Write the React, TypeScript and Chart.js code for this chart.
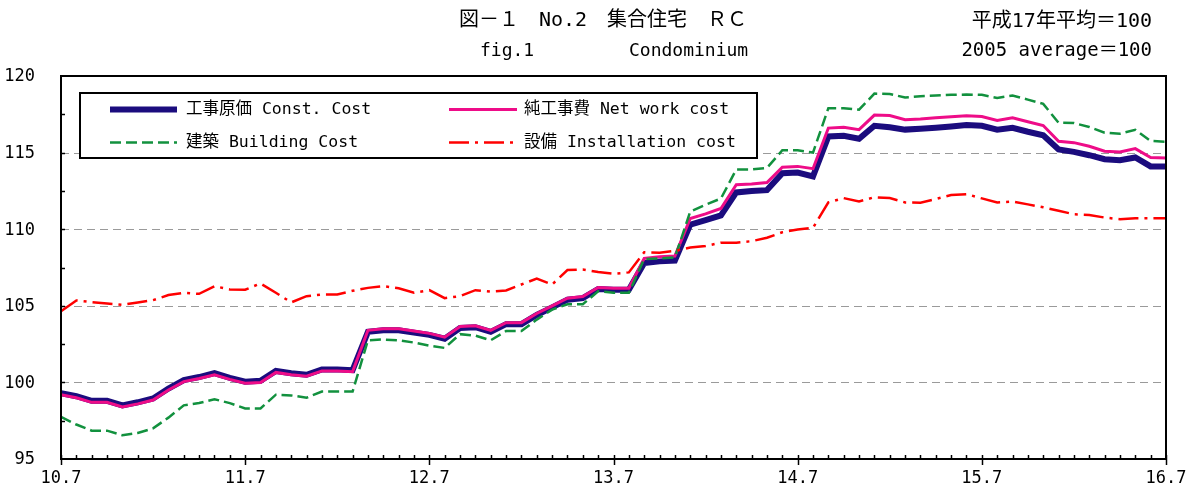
import React, { useEffect, useRef } from 'react';
import { Chart, registerables } from 'chart.js';

Chart.register(...registerables);

const categories = [
  '10.7','10.8','10.9','10.10','10.11','10.12',
  '11.1','11.2','11.3','11.4','11.5','11.6','11.7','11.8','11.9','11.10','11.11','11.12',
  '12.1','12.2','12.3','12.4','12.5','12.6','12.7','12.8','12.9','12.10','12.11','12.12',
  '13.1','13.2','13.3','13.4','13.5','13.6','13.7','13.8','13.9','13.10','13.11','13.12',
  '14.1','14.2','14.3','14.4','14.5','14.6','14.7','14.8','14.9','14.10','14.11','14.12',
  '15.1','15.2','15.3','15.4','15.5','15.6','15.7','15.8','15.9','15.10','15.11','15.12',
  '16.1','16.2','16.3','16.4','16.5','16.6','16.7'
];

const tickLabels = ['10.7', '11.7', '12.7', '13.7', '14.7', '15.7', '16.7'];
const yMin = 95;
const yMax = 120;
const yTickValues = [95, 100, 105, 110, 115, 120];
const gridValues = [100, 105, 110, 115];
const minorYValues = [97.5, 102.5, 107.5, 112.5, 117.5];

const constCost = [
  99.3, 99.1, 98.8, 98.8, 98.5, 98.7, 98.95, 99.6, 100.15, 100.35, 100.6, 100.3,
  100.05, 100.1, 100.75, 100.6, 100.5, 100.85, 100.85, 100.8, 103.3, 103.4, 103.4, 103.25,
  103.1, 102.85, 103.55, 103.6, 103.3, 103.8, 103.8, 104.4, 104.9, 105.4, 105.5, 106.1,
  106.05, 106.05, 107.8, 107.9, 107.95, 110.3, 110.6, 110.9, 112.4, 112.5, 112.55, 113.65,
  113.7, 113.45, 116.05, 116.1, 115.9, 116.75, 116.65, 116.5, 116.55, 116.62, 116.7, 116.8,
  116.75, 116.5, 116.62, 116.36, 116.13, 115.2, 115.05, 114.83, 114.57, 114.5, 114.68, 114.1,
  114.1
];

const netWorkCost = [
  99.2, 99.0, 98.7, 98.7, 98.4, 98.6, 98.85, 99.5, 100.05, 100.25, 100.5, 100.2,
  99.95, 100.0, 100.65, 100.5, 100.4, 100.75, 100.75, 100.7, 103.4, 103.5, 103.5, 103.35,
  103.2, 102.95, 103.65, 103.7, 103.4, 103.9, 103.9, 104.5, 105.0, 105.5, 105.6, 106.2,
  106.15, 106.15, 108.1, 108.2, 108.25, 110.7, 111.0, 111.35, 112.9, 112.95, 113.05, 114.05,
  114.1, 113.95, 116.6, 116.65, 116.5, 117.45, 117.42, 117.14, 117.19, 117.27, 117.34, 117.4,
  117.36, 117.1, 117.27, 117.01, 116.77, 115.74, 115.65, 115.41, 115.09, 115.04, 115.26, 114.68,
  114.65
];

const buildingCost = [
  97.75, 97.25, 96.85, 96.85, 96.55, 96.7, 97.0, 97.7, 98.5, 98.65, 98.9, 98.65,
  98.3, 98.3, 99.2, 99.15, 99.0, 99.4, 99.4, 99.4, 102.75, 102.8, 102.75, 102.6,
  102.4, 102.25, 103.15, 103.05, 102.75, 103.35, 103.35, 104.1, 104.75, 105.1, 105.1, 105.95,
  105.85, 105.85, 108.05, 108.1, 108.15, 111.15, 111.6, 112.0, 113.9, 113.9, 114.0, 115.15,
  115.15, 115.0, 117.9, 117.9, 117.8, 118.85, 118.82, 118.6, 118.68, 118.72, 118.77, 118.79,
  118.77, 118.57, 118.72, 118.46, 118.18, 116.95, 116.93, 116.67, 116.3, 116.23, 116.49, 115.76,
  115.71
];

const installationCost = [
  104.65, 105.35, 105.24, 105.15, 105.07, 105.22, 105.37, 105.7, 105.85, 105.78, 106.28, 106.07,
  106.05, 106.46, 105.85, 105.22, 105.63, 105.74, 105.74, 105.98, 106.17, 106.28, 106.15, 105.85,
  106.02, 105.5, 105.63, 106.02, 105.93, 106.0, 106.39, 106.78, 106.39, 107.33, 107.37, 107.2,
  107.09, 107.18, 108.5, 108.47, 108.58, 108.8, 108.9, 109.12, 109.12, 109.22, 109.44, 109.8,
  109.98, 110.09, 111.75, 112.03, 111.81, 112.09, 112.03, 111.75, 111.73, 111.97, 112.23, 112.29,
  112.01, 111.75, 111.8, 111.62, 111.43, 111.21, 110.97, 110.93, 110.76, 110.65, 110.71, 110.71,
  110.71
];

const seriesNames = ['工事原価 Const. Cost', '純工事費 Net work cost', '建築 Building Cost', '設備 Installation cost'];
const titleLine1 = '図－１　No.2　集合住宅　ＲＣ';
const titleLine2a = 'fig.1';
const titleLine2b = 'Condominium';
const noteLine1 = '平成17年平均＝100';
const noteLine2 = '2005 average＝100';

const NAVY = '#1b0c7e';
const PINK = '#ee0c88';
const GREEN = '#12913e';
const RED = '#ff0000';
const MIXED_FONT = "'DejaVu Sans Mono', 'Noto Sans CJK JP', monospace";

const decorPlugin = {
  id: 'decor',
  beforeDatasetsDraw(chart: any) {
    const { ctx, chartArea } = chart;
    const y = chart.scales.y;
    const x = chart.scales.x;
    ctx.save();
    ctx.strokeStyle = '#9a9a9a';
    ctx.lineWidth = 1;
    ctx.setLineDash([8, 5]);
    gridValues.forEach((v) => {
      const py = Math.round(y.getPixelForValue(v)) + 0.5;
      ctx.beginPath();
      ctx.moveTo(chartArea.left, py);
      ctx.lineTo(chartArea.right, py);
      ctx.stroke();
    });
    ctx.setLineDash([]);
    ctx.strokeStyle = '#000';
    ctx.lineWidth = 1.5;
    [...gridValues, ...minorYValues].forEach((v) => {
      const py = Math.round(y.getPixelForValue(v)) + 0.5;
      ctx.beginPath();
      ctx.moveTo(chartArea.left, py);
      ctx.lineTo(chartArea.left + 4, py);
      ctx.stroke();
    });
    categories.forEach((c, i) => {
      const px = Math.round(x.getPixelForValue(i)) + 0.5;
      const major = tickLabels.includes(c);
      ctx.beginPath();
      ctx.moveTo(px, chartArea.bottom - 4);
      ctx.lineTo(px, chartArea.bottom + (major ? 6 : 0));
      ctx.stroke();
    });

    // axis labels
    ctx.fillStyle = '#000';
    ctx.font = `17px ${MIXED_FONT}`;
    ctx.textBaseline = 'middle';
    ctx.textAlign = 'right';
    yTickValues.forEach((v) => {
      ctx.fillText(String(v), 35, y.getPixelForValue(v) + 1);
    });
    ctx.textAlign = 'center';
    categories.forEach((c, i) => {
      if (tickLabels.includes(c)) {
        ctx.fillText(c, x.getPixelForValue(i), 479);
      }
    });
    ctx.restore();
  },
  afterDatasetsDraw(chart: any) {
    const { ctx, chartArea } = chart;
    ctx.save();
    ctx.strokeStyle = '#000';
    ctx.lineWidth = 2;
    ctx.setLineDash([]);
    ctx.strokeRect(chartArea.left, chartArea.top, chartArea.right - chartArea.left, chartArea.bottom - chartArea.top);

    const lx = 80, ly = 93, lw = 677, lh = 65;
    ctx.fillStyle = '#fff';
    ctx.fillRect(lx, ly, lw, lh);
    ctx.strokeRect(lx, ly, lw, lh);

    const rows = [109.5, 142.5];
    const cols = [{ s: 110, e: 177, t: 186 }, { s: 449, e: 517, t: 524 }];
    const styles = [
      { color: NAVY, width: 6, dash: [] as number[] },
      { color: PINK, width: 3, dash: [] as number[] },
      { color: GREEN, width: 2.5, dash: [11, 5] },
      { color: RED, width: 2.5, dash: [20, 6, 3, 6] },
    ];
    ctx.font = `16.5px ${MIXED_FONT}`;
    ctx.textBaseline = 'middle';
    ctx.textAlign = 'left';
    seriesNames.forEach((name, k) => {
      const r = rows[Math.floor(k / 2)];
      const c = cols[k % 2];
      const st = styles[k];
      ctx.strokeStyle = st.color;
      ctx.lineWidth = st.width;
      ctx.setLineDash(st.dash);
      ctx.beginPath();
      ctx.moveTo(c.s, r);
      ctx.lineTo(c.e, r);
      ctx.stroke();
      ctx.setLineDash([]);
      ctx.fillStyle = '#000';
      ctx.fillText(name, c.t, r);
    });

    ctx.fillStyle = '#000';
    ctx.font = `20px ${MIXED_FONT}`;
    ctx.textAlign = 'center';
    ctx.fillText(titleLine1, 603, 21);
    ctx.font = `18px ${MIXED_FONT}`;
    ctx.textAlign = 'left';
    ctx.fillText(titleLine2a, 480, 51);
    ctx.fillText(titleLine2b, 629, 51);
    ctx.textAlign = 'right';
    ctx.font = `20px ${MIXED_FONT}`;
    ctx.fillText(noteLine1, 1152, 22);
    ctx.font = `19px ${MIXED_FONT}`;
    ctx.fillText(noteLine2, 1152, 51);
    ctx.restore();
  },
};

export default function App() {
  const canvasRef = useRef<HTMLCanvasElement | null>(null);

  useEffect(() => {
    document.body.style.margin = '0';
    const canvas = canvasRef.current;
    if (!canvas) return;
    const common = { pointRadius: 0, tension: 0, fill: false, clip: 0 };
    const chart = new Chart(canvas, {
      type: 'line',
      data: {
        labels: categories,
        datasets: [
          { ...common, label: seriesNames[3], data: installationCost, borderColor: RED, borderWidth: 2.5, borderDash: [20, 6, 3, 6] },
          { ...common, label: seriesNames[2], data: buildingCost, borderColor: GREEN, borderWidth: 2.5, borderDash: [11, 5] },
          { ...common, label: seriesNames[1], data: netWorkCost, borderColor: PINK, borderWidth: 3 },
          { ...common, label: seriesNames[0], data: constCost, borderColor: NAVY, borderWidth: 6 },
        ],
      },
      options: {
        animation: false,
        responsive: false,
        maintainAspectRatio: false,
        layout: { padding: { top: 76, right: 26, left: 61, bottom: 32 } },
        plugins: {
          legend: { display: false },
          tooltip: { enabled: false },
          title: { display: false },
        },
        scales: {
          x: {
            type: 'category',
            offset: false,
            display: true,
            grid: { display: false, drawTicks: false },
            border: { display: false },
            ticks: { display: false },
            afterFit: (s: any) => { s.height = 0; },
          },
          y: {
            min: yMin,
            max: yMax,
            grid: { display: false, drawTicks: false },
            border: { display: false },
            ticks: { display: false, stepSize: 5 },
            afterFit: (s: any) => { s.width = 0; },
          },
        },
      },
      plugins: [decorPlugin],
    } as any);
    return () => chart.destroy();
  }, []);

  return (
    <div style={{ width: 1192, height: 491, background: '#fff' }}>
      <canvas ref={canvasRef} width={1192} height={491} style={{ width: 1192, height: 491, display: 'block' }} />
    </div>
  );
}
